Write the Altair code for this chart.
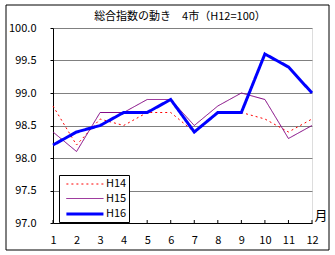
import altair as alt
import pandas as pd

months = list(range(1, 13))
h14 = [98.8, 98.2, 98.6, 98.5, 98.7, 98.7, 98.4, 98.7, 98.7, 98.6, 98.4, 98.6]
h15 = [98.4, 98.1, 98.7, 98.7, 98.9, 98.9, 98.5, 98.8, 99.0, 98.9, 98.3, 98.5]
h16 = [98.2, 98.4, 98.5, 98.7, 98.7, 98.9, 98.4, 98.7, 98.7, 99.6, 99.4, 99.0]
series = ["H14", "H15", "H16"]
y_ticks = [97.0, 97.5, 98.0, 98.5, 99.0, 99.5, 100.0]
title_text = ["総合指数の動き　4市（H12=100）"]

rows = []
for name, vals in zip(series, [h14, h15, h16]):
    for m, v in zip(months, vals):
        rows.append({"month": m, "value": v, "series": name})
df = pd.DataFrame(rows)
mdf = pd.DataFrame({"month": months})

FONT = "Noto Sans CJK JP"

xscale = alt.Scale(domain=[1, 12], nice=False, zero=False)
yscale = alt.Scale(domain=[97, 100], nice=False, zero=False)

x_axis = alt.Axis(values=months, format="d", ticks=False, grid=False,
                  labelPadding=11, labelFontSize=11, labelFont=FONT,
                  labelColor="black", domainColor="black",
                  labelOverlap=False, labelFlush=False,
                  title="月", titleFont=FONT, titleFontSize=13,
                  titleFontWeight="normal", titleX=261, titleY=-8,
                  titleAlign="left", titleBaseline="middle")

lines = alt.Chart(df).mark_line(clip=False).encode(
    x=alt.X("month:Q", scale=xscale, axis=x_axis),
    y=alt.Y("value:Q", scale=yscale,
            axis=alt.Axis(values=y_ticks, format=".1f", tickSize=3,
                          tickColor="black", domainColor="black",
                          gridColor="#808080", labelPadding=14,
                          labelFontSize=11, labelFont=FONT,
                          labelColor="black", title=None)),
    color=alt.Color("series:N",
                    scale=alt.Scale(domain=series,
                                    range=["#FF0000", "#800080", "#0000FF"]),
                    legend=alt.Legend(title=None, orient="none", legendX=6,
                                      legendY=147, strokeColor="black",
                                      fillColor="white", padding=2,
                                      symbolType="M-0.4,0H5.3", symbolSize=169,
                                      labelFontSize=11, labelFont=FONT,
                                      labelOffset=29, rowPadding=2.5,
                                      columnPadding=0,
                                      labelColor="black")),
    strokeDash=alt.StrokeDash("series:N",
                              scale=alt.Scale(domain=series,
                                              range=[[2, 3], [1, 0], [1, 0]]),
                              legend=None),
    strokeWidth=alt.StrokeWidth("series:N",
                                scale=alt.Scale(type="ordinal", domain=series,
                                                range=[1, 1, 3]),
                                legend=None),
)

ticks = alt.Chart(mdf).mark_rule(color="black").encode(
    x=alt.X("month:Q", scale=xscale, axis=x_axis),
    y=alt.value(195),
    y2=alt.value(192),
)

title = alt.Chart(pd.DataFrame({"t": title_text})).mark_text(
    font=FONT, fontSize=11, color="black", align="center", baseline="middle"
).encode(x=alt.value(127), y=alt.value(-11), text="t:N")

frame = alt.Chart(pd.DataFrame({"a": [0]})).mark_rect(
    fillOpacity=0, stroke="black", strokeWidth=1, clip=False
).encode(
    x=alt.value(-47), x2=alt.value(276), y=alt.value(-23), y2=alt.value(222)
)

chart = alt.layer(ticks, lines, title, frame).properties(
    width=259, height=195,
    padding={"left": 53, "top": 28, "right": 23, "bottom": 32},
    autosize=alt.AutoSizeParams(type="none"),
).configure_view(stroke="black", strokeWidth=1).configure(background="white")

chart.save("out.html", embed_options={"renderer": "svg", "actions": False})
